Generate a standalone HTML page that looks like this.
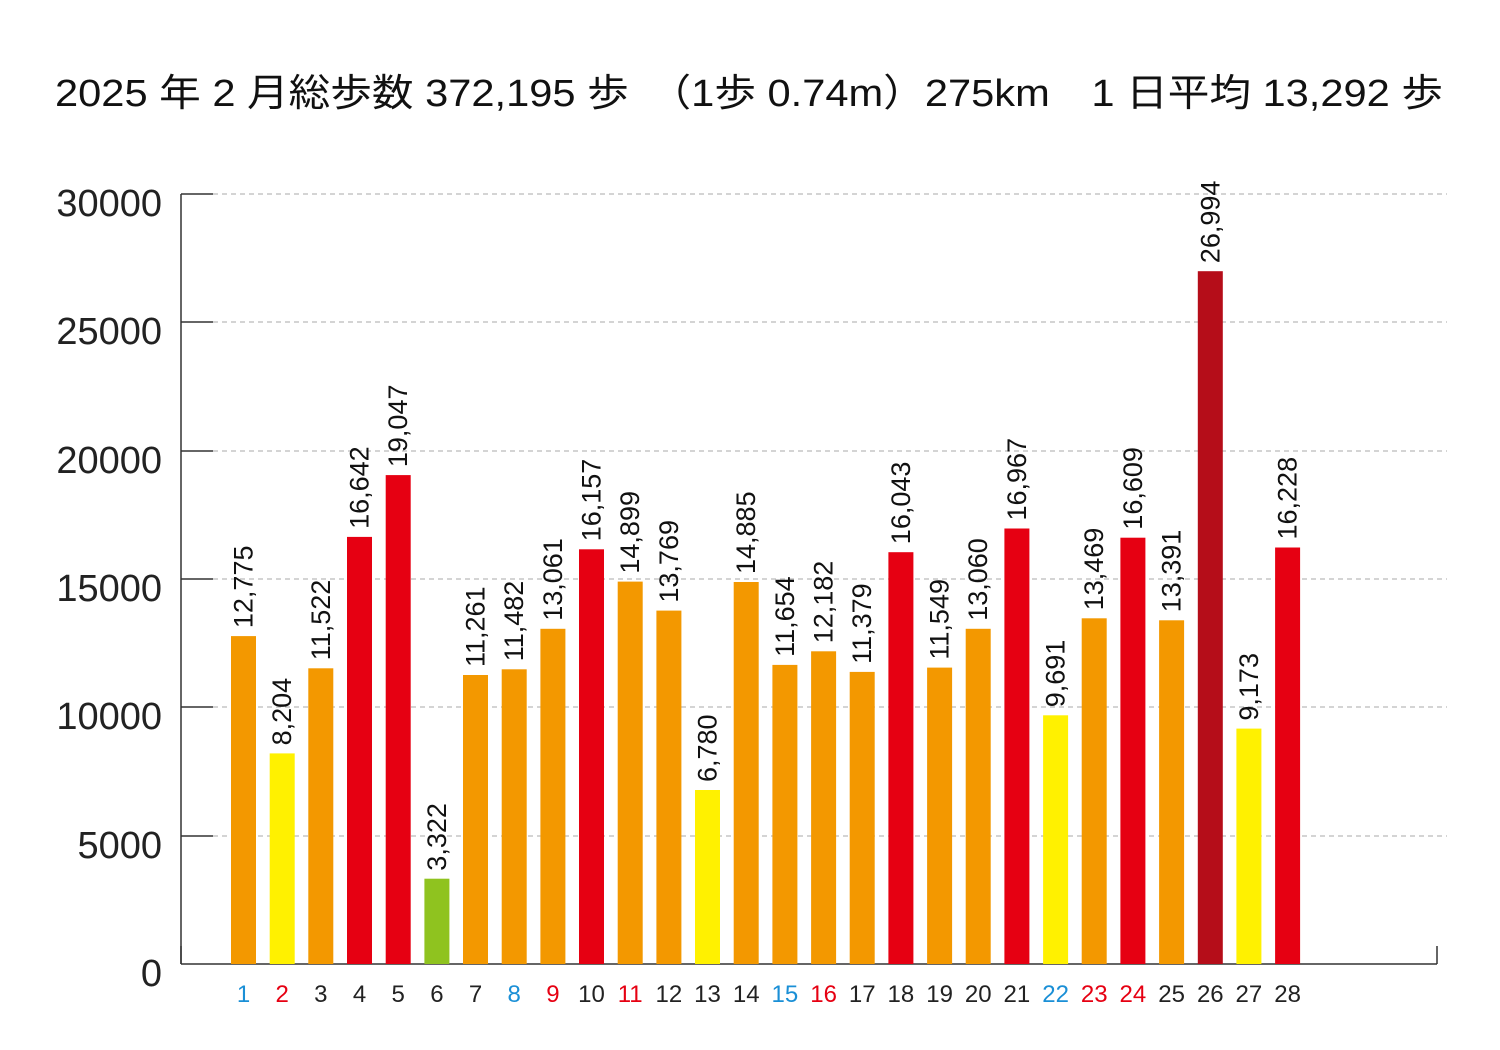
<!DOCTYPE html>
<html><head><meta charset="utf-8"><style>body{margin:0;background:#fff}svg{display:block}</style></head>
<body>
<svg width="1500" height="1050" xmlns="http://www.w3.org/2000/svg" font-family="'Liberation Sans','Noto Sans CJK JP',sans-serif">
<rect width="1500" height="1050" fill="#fff"/>
<text x="55" y="106" font-size="38" fill="#111" textLength="1388" lengthAdjust="spacingAndGlyphs">2025 年 2 月総歩数 372,195 歩　（1歩 0.74m）275km　1 日平均 13,292 歩</text>
<g stroke="#aaa" stroke-dasharray="5,4" stroke-width="1">
<line x1="213" y1="194" x2="1447" y2="194"/>
<line x1="213" y1="322" x2="1447" y2="322"/>
<line x1="213" y1="451" x2="1447" y2="451"/>
<line x1="213" y1="579" x2="1447" y2="579"/>
<line x1="213" y1="707" x2="1447" y2="707"/>
<line x1="213" y1="836" x2="1447" y2="836"/>
</g>
<g stroke="#333" stroke-width="1.5">
<line x1="181" y1="194" x2="181" y2="964"/>
<line x1="181" y1="964" x2="1437" y2="964"/>
<line x1="1437" y1="946" x2="1437" y2="964"/>
<line x1="181" y1="946" x2="181" y2="964"/>
<line x1="181" y1="194" x2="213" y2="194"/>
<line x1="181" y1="322" x2="213" y2="322"/>
<line x1="181" y1="451" x2="213" y2="451"/>
<line x1="181" y1="579" x2="213" y2="579"/>
<line x1="181" y1="707" x2="213" y2="707"/>
<line x1="181" y1="836" x2="213" y2="836"/>
</g>
<g font-size="38" fill="#222" text-anchor="end">
<text x="162" y="216">30000</text>
<text x="162" y="344">25000</text>
<text x="162" y="473">20000</text>
<text x="162" y="601">15000</text>
<text x="162" y="729">10000</text>
<text x="162" y="858">5000</text>
<text x="162" y="986">0</text>
</g>
<g>
<rect x="231.0" y="636.1" width="25" height="327.9" fill="#f39800"/>
<rect x="269.7" y="753.4" width="25" height="210.6" fill="#fff100"/>
<rect x="308.3" y="668.3" width="25" height="295.7" fill="#f39800"/>
<rect x="347.0" y="536.9" width="25" height="427.1" fill="#e60012"/>
<rect x="385.7" y="475.1" width="25" height="488.9" fill="#e60012"/>
<rect x="424.4" y="878.7" width="25" height="85.3" fill="#8fc31f"/>
<rect x="463.0" y="675.0" width="25" height="289.0" fill="#f39800"/>
<rect x="501.7" y="669.3" width="25" height="294.7" fill="#f39800"/>
<rect x="540.4" y="628.8" width="25" height="335.2" fill="#f39800"/>
<rect x="579.0" y="549.3" width="25" height="414.7" fill="#e60012"/>
<rect x="617.7" y="581.6" width="25" height="382.4" fill="#f39800"/>
<rect x="656.4" y="610.6" width="25" height="353.4" fill="#f39800"/>
<rect x="695.0" y="790.0" width="25" height="174.0" fill="#fff100"/>
<rect x="733.7" y="582.0" width="25" height="382.0" fill="#f39800"/>
<rect x="772.4" y="664.9" width="25" height="299.1" fill="#f39800"/>
<rect x="811.1" y="651.3" width="25" height="312.7" fill="#f39800"/>
<rect x="849.7" y="671.9" width="25" height="292.1" fill="#f39800"/>
<rect x="888.4" y="552.2" width="25" height="411.8" fill="#e60012"/>
<rect x="927.1" y="667.6" width="25" height="296.4" fill="#f39800"/>
<rect x="965.7" y="628.8" width="25" height="335.2" fill="#f39800"/>
<rect x="1004.4" y="528.5" width="25" height="435.5" fill="#e60012"/>
<rect x="1043.1" y="715.3" width="25" height="248.7" fill="#fff100"/>
<rect x="1081.7" y="618.3" width="25" height="345.7" fill="#f39800"/>
<rect x="1120.4" y="537.7" width="25" height="426.3" fill="#e60012"/>
<rect x="1159.1" y="620.3" width="25" height="343.7" fill="#f39800"/>
<rect x="1197.8" y="271.2" width="25" height="692.8" fill="#b50d19"/>
<rect x="1236.4" y="728.6" width="25" height="235.4" fill="#fff100"/>
<rect x="1275.1" y="547.5" width="25" height="416.5" fill="#e60012"/>
</g>
<g font-size="27" fill="#111">
<text transform="translate(252.5,628.1) rotate(-90)">12,775</text>
<text transform="translate(291.2,745.4) rotate(-90)">8,204</text>
<text transform="translate(329.8,660.3) rotate(-90)">11,522</text>
<text transform="translate(368.5,528.9) rotate(-90)">16,642</text>
<text transform="translate(407.2,467.1) rotate(-90)">19,047</text>
<text transform="translate(445.9,870.7) rotate(-90)">3,322</text>
<text transform="translate(484.5,667.0) rotate(-90)">11,261</text>
<text transform="translate(523.2,661.3) rotate(-90)">11,482</text>
<text transform="translate(561.9,620.8) rotate(-90)">13,061</text>
<text transform="translate(600.5,541.3) rotate(-90)">16,157</text>
<text transform="translate(639.2,573.6) rotate(-90)">14,899</text>
<text transform="translate(677.9,602.6) rotate(-90)">13,769</text>
<text transform="translate(716.5,782.0) rotate(-90)">6,780</text>
<text transform="translate(755.2,574.0) rotate(-90)">14,885</text>
<text transform="translate(793.9,656.9) rotate(-90)">11,654</text>
<text transform="translate(832.6,643.3) rotate(-90)">12,182</text>
<text transform="translate(871.2,663.9) rotate(-90)">11,379</text>
<text transform="translate(909.9,544.2) rotate(-90)">16,043</text>
<text transform="translate(948.6,659.6) rotate(-90)">11,549</text>
<text transform="translate(987.2,620.8) rotate(-90)">13,060</text>
<text transform="translate(1025.9,520.5) rotate(-90)">16,967</text>
<text transform="translate(1064.6,707.3) rotate(-90)">9,691</text>
<text transform="translate(1103.2,610.3) rotate(-90)">13,469</text>
<text transform="translate(1141.9,529.7) rotate(-90)">16,609</text>
<text transform="translate(1180.6,612.3) rotate(-90)">13,391</text>
<text transform="translate(1219.3,263.2) rotate(-90)">26,994</text>
<text transform="translate(1257.9,720.6) rotate(-90)">9,173</text>
<text transform="translate(1296.6,539.5) rotate(-90)">16,228</text>
</g>
<g font-size="24" text-anchor="middle" fill="#222">
<text x="243.5" y="1002" fill="#1a8fd6">1</text>
<text x="282.2" y="1002" fill="#e60012">2</text>
<text x="320.8" y="1002">3</text>
<text x="359.5" y="1002">4</text>
<text x="398.2" y="1002">5</text>
<text x="436.9" y="1002">6</text>
<text x="475.5" y="1002">7</text>
<text x="514.2" y="1002" fill="#1a8fd6">8</text>
<text x="552.9" y="1002" fill="#e60012">9</text>
<text x="591.5" y="1002">10</text>
<text x="630.2" y="1002" fill="#e60012">11</text>
<text x="668.9" y="1002">12</text>
<text x="707.5" y="1002">13</text>
<text x="746.2" y="1002">14</text>
<text x="784.9" y="1002" fill="#1a8fd6">15</text>
<text x="823.6" y="1002" fill="#e60012">16</text>
<text x="862.2" y="1002">17</text>
<text x="900.9" y="1002">18</text>
<text x="939.6" y="1002">19</text>
<text x="978.2" y="1002">20</text>
<text x="1016.9" y="1002">21</text>
<text x="1055.6" y="1002" fill="#1a8fd6">22</text>
<text x="1094.2" y="1002" fill="#e60012">23</text>
<text x="1132.9" y="1002" fill="#e60012">24</text>
<text x="1171.6" y="1002">25</text>
<text x="1210.3" y="1002">26</text>
<text x="1248.9" y="1002">27</text>
<text x="1287.6" y="1002">28</text>
</g>
</svg>
</body></html>
